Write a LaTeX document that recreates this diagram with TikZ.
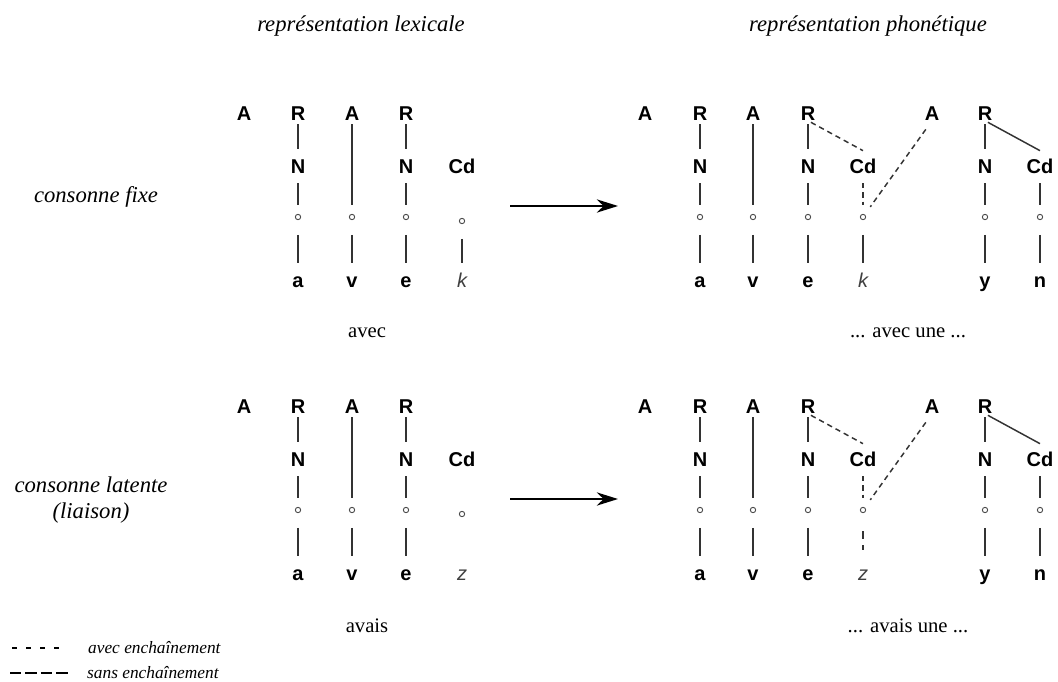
\documentclass[tikz,border=0pt]{standalone}
\usepackage{fontspec}
\setmainfont{Liberation Serif}
\setsansfont{Liberation Sans}
\usetikzlibrary{arrows.meta}

\begin{document}
\begin{tikzpicture}[x=0.75pt, y=-0.75pt, line width=1.1pt,
  unit/.style={font=\sffamily\bfseries\fontsize{15}{15}\selectfont, anchor=base,
    inner sep=0pt, text height=10.7pt, text depth=0pt},
  uniti/.style={unit, font=\sffamily\itshape\fontsize{15}{15}\selectfont, text=black!75},
  slot/.style={circle, draw=black!70, line width=.7pt, inner sep=0pt, minimum size=4pt},
  tiehi/.style={draw=black!80, shorten <=2.5pt, shorten >=7pt},
  tiemid/.style={draw=black!80, shorten <=7pt, shorten >=6.5pt},
  tielo/.style={draw=black!80, shorten <=11pt, shorten >=6.5pt},
  avec/.style={dash pattern=on 4pt off 3pt},
  sans/.style={line width=1.6pt, dash pattern=on 6pt off 4.5pt},
  titre/.style={font=\itshape\fontsize{17}{19}\selectfont},
  mot/.style={font=\fontsize{15.5}{17}\selectfont},
  legende/.style={font=\itshape\fontsize{13}{15}\selectfont, anchor=west}]

  \useasboundingbox (0,0) rectangle (1058,682);

  % en-tetes
  \node[titre] (lex) at (361,26) {représentation lexicale};
  \node[titre] (pho) at (868,26) {représentation phonétique};
  \node[titre] (fixe) at (96,197) {consonne fixe};
  \node[titre, align=center] (latente) at (91,500) {consonne latente\\(liaison)};

  \foreach \p/\dy/\c/\w in {1/0/k/avec, 2/293/z/avais}{
    \begin{scope}[shift={(0,\dy)}]
      % representation lexicale
      \node[unit] (lA0-\p) at (244,120) {A};
      \node[unit] (lR1-\p) at (298,120) {R};
      \node[unit] (lA2-\p) at (352,120) {A};
      \node[unit] (lR3-\p) at (406,120) {R};
      \node[unit] (lN1-\p) at (298,173) {N};
      \node[unit] (lN3-\p) at (406,173) {N};
      \node[unit] (lCd4-\p) at (462,173) {Cd};
      \node[slot] (lo1-\p) at (298,217) {};
      \node[slot] (lo2-\p) at (352,217) {};
      \node[slot] (lo3-\p) at (406,217) {};
      \node[slot] (lo4-\p) at (462,221) {};
      \node[unit] (la-\p) at (298,287) {a};
      \node[unit] (lv-\p) at (352,287) {v};
      \node[unit] (le-\p) at (406,287) {e};
      \node[uniti] (lk-\p) at (462,287) {\c};
      \draw[tiehi] (lR1-\p) -- (lN1-\p);
      \draw[tiemid] (lN1-\p) -- (lo1-\p);
      \draw[tielo] (lo1-\p) -- (la-\p);
      \draw[tiehi] (lA2-\p) -- (lo2-\p);
      \draw[tielo] (lo2-\p) -- (lv-\p);
      \draw[tiehi] (lR3-\p) -- (lN3-\p);
      \draw[tiemid] (lN3-\p) -- (lo3-\p);
      \draw[tielo] (lo3-\p) -- (le-\p);
      \node[mot] (motl-\p) at (367,333) {\w};

      \coordinate (go-\p) at (510,206);
      \coordinate (to-\p) at (618,206);
      \draw[-{Stealth[length=16pt,width=10pt]}] (go-\p) -- (to-\p);

      % representation phonetique
      \node[unit] (rA0-\p) at (645,120) {A};
      \node[unit] (rR1-\p) at (700,120) {R};
      \node[unit] (rA2-\p) at (753,120) {A};
      \node[unit] (rR3-\p) at (808,120) {R};
      \node[unit] (rA5-\p) at (932,120) {A};
      \node[unit] (rR6-\p) at (985,120) {R};
      \node[unit] (rN1-\p) at (700,173) {N};
      \node[unit] (rN3-\p) at (808,173) {N};
      \node[unit] (rCd4-\p) at (863,173) {Cd};
      \node[unit] (rN6-\p) at (985,173) {N};
      \node[unit] (rCd7-\p) at (1040,173) {Cd};
      \node[slot] (ro1-\p) at (700,217) {};
      \node[slot] (ro2-\p) at (753,217) {};
      \node[slot] (ro3-\p) at (808,217) {};
      \node[slot] (ro4-\p) at (863,217) {};
      \node[slot] (ro6-\p) at (985,217) {};
      \node[slot] (ro7-\p) at (1040,217) {};
      \node[unit] (ra-\p) at (700,287) {a};
      \node[unit] (rv-\p) at (753,287) {v};
      \node[unit] (re-\p) at (808,287) {e};
      \node[uniti] (rk-\p) at (863,287) {\c};
      \node[unit] (ry-\p) at (985,287) {y};
      \node[unit] (rn-\p) at (1040,287) {n};
      \draw[tiehi] (rR1-\p) -- (rN1-\p);
      \draw[tiemid] (rN1-\p) -- (ro1-\p);
      \draw[tielo] (ro1-\p) -- (ra-\p);
      \draw[tiehi] (rA2-\p) -- (ro2-\p);
      \draw[tielo] (ro2-\p) -- (rv-\p);
      \draw[tiehi] (rR3-\p) -- (rN3-\p);
      \draw[tiemid] (rN3-\p) -- (ro3-\p);
      \draw[tielo] (ro3-\p) -- (re-\p);
      \draw[tiehi, avec, shorten >=0pt] (rR3-\p.south) -- ([yshift=5.5pt]rCd4-\p.north);
      \draw[tiemid, avec] (rCd4-\p) -- (ro4-\p);
      \draw[tiehi, avec, shorten <=8pt] (rA5-\p.south) -- (ro4-\p);
      \draw[tiehi] (rR6-\p) -- (rN6-\p);
      \draw[tiemid] (rN6-\p) -- (ro6-\p);
      \draw[tielo] (ro6-\p) -- (ry-\p);
      \draw[tiehi, shorten >=0pt] (rR6-\p.south) -- ([yshift=5.5pt]rCd7-\p.north);
      \draw[tiemid] (rCd7-\p) -- (ro7-\p);
      \draw[tielo] (ro7-\p) -- (rn-\p);
      \node[mot] (motr-\p) at (908,333) {... \w{} une ...};
    \end{scope}
  }

  % consonne finale
  \draw[tielo] (lo4-1) -- (lk-1);
  \draw[tielo] (ro4-1) -- (rk-1);
  \draw[tielo, sans, shorten <=13.7pt, shorten >=11pt] (ro4-2) -- (rk-2);

  % legende
  \coordinate (avg) at (12,648);
  \coordinate (avd) at (63,648);
  \draw[line width=.8pt, dash pattern=on 4pt off 6.5pt] (avg) -- (avd);
  \node[legende] (avt) at (83,648) {avec enchaînement};
  \coordinate (sag) at (10,673);
  \coordinate (sad) at (68,673);
  \draw[sans, dash pattern=on 8.6pt off 3pt] (sag) -- (sad);
  \node[legende] (sat) at (82,673) {sans enchaînement};
\end{tikzpicture}
\end{document}
